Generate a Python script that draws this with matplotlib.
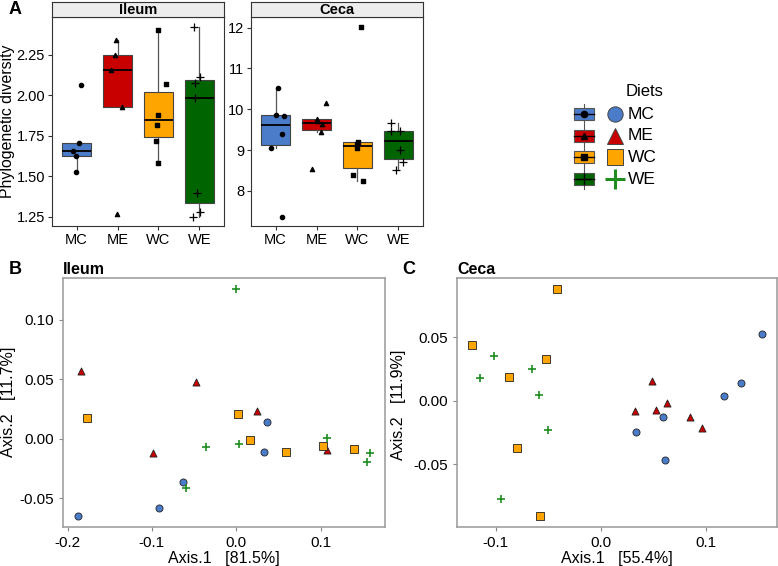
import matplotlib.pyplot as plt
from matplotlib.patches import Rectangle

plt.rcParams['font.family'] = ['Liberation Sans', 'DejaVu Sans']

W, H = 778, 566

diets = ['MC', 'ME', 'WC', 'WE']
box_colors = ['#4A7CC9', '#C80000', '#FFA500', '#006400']
pt_colors = ['#4A7CC9', '#C80000', '#FFA500', '#1E8C1E']
markers = ['o', '^', 's', '+']

# phylogenetic diversity per diet (MC, ME, WC, WE)
ileum_pd = [[2.063, 1.705, 1.654, 1.627, 1.526],
            [2.339, 2.248, 2.156, 1.927, 1.264],
            [2.405, 2.067, 1.876, 1.814, 1.719, 1.580],
            [2.425, 2.114, 2.077, 1.981, 1.396, 1.275, 1.250]]
ileum_jit = [[0.10, 0.06, -0.08, -0.02, -0.02],
             [-0.03, -0.05, -0.16, 0.12, -0.01],
             [-0.02, 0.19, -0.02, -0.03, -0.06, -0.01],
             [-0.14, 0.02, -0.10, -0.11, -0.06, 0.01, -0.15]]

ceca_pd = [[10.52, 9.85, 9.84, 9.39, 9.05, 7.37],
           [10.15, 9.76, 9.72, 9.63, 9.45, 8.53],
           [12.03, 9.20, 9.16, 9.05, 8.40, 8.24],
           [9.66, 9.46, 9.47, 9.00, 8.71, 8.52]]
ceca_jit = [[0.05, 0.00, 0.20, 0.15, -0.10, 0.15],
            [0.22, 0.00, 0.02, 0.13, 0.11, -0.11],
            [0.08, 0.01, 0.00, -0.01, -0.11, 0.14],
            [-0.18, -0.17, 0.05, 0.04, 0.10, -0.06]]

# PCoA coordinates (Axis.1, Axis.2)
ileum_ax1 = [[-0.188, -0.091, -0.063, 0.036, 0.0329],
             [-0.184, -0.048, -0.099, 0.0246, 0.108],
             [-0.177, 0.002, 0.0166, 0.0586, 0.1025, 0.1393],
             [-0.060, 0.108, -0.0364, 0.0027, 0.159, 0.1548, 0.0]]
ileum_ax2 = [[-0.0646, -0.058, -0.036, 0.0144, -0.0114],
             [0.057, 0.048, -0.012, 0.0236, -0.0098],
             [0.0178, 0.0205, -0.0008, -0.0112, -0.0062, -0.0083],
             [-0.041, 0.001, -0.0067, -0.0042, -0.0117, -0.0198, 0.1255]]

ceca_ax1 = [[0.1542, 0.1338, 0.1173, 0.0593, 0.0338, 0.0615],
            [0.0489, 0.0634, 0.053, 0.0325, 0.0855, 0.0965],
            [-0.123, -0.0517, -0.0876, -0.080, -0.058, -0.0412],
            [-0.1012, -0.1148, -0.0656, -0.0583, -0.0501, -0.0952]]
ceca_ax2 = [[0.0528, 0.0138, 0.0036, -0.013, -0.0248, -0.0464],
            [0.0151, -0.0021, -0.0073, -0.0078, -0.0125, -0.0214],
            [0.0442, 0.0325, 0.0184, -0.037, -0.0906, 0.0877],
            [0.0348, 0.0177, 0.0252, 0.0041, -0.0232, -0.0773]]


def rect(l, t, r, b):
    return [l / W, 1 - b / H, (r - l) / W, (b - t) / H]


fig = plt.figure(figsize=(W / 100, H / 100), dpi=100)


def box_panel(left, right, title, values, jitter, yticks, fmt):
    ax = fig.add_axes(rect(left, 17, right, 226))
    bp = ax.boxplot(values, positions=[1, 2, 3, 4], widths=0.7, patch_artist=True,
                    showfliers=False, showcaps=False,
                    medianprops=dict(color='black', linewidth=1.3),
                    whiskerprops=dict(color='#555555', linewidth=0.9),
                    boxprops=dict(edgecolor='#444444', linewidth=0.8))
    for patch, c in zip(bp['boxes'], box_colors):
        patch.set_facecolor(c)
    for i in range(4):
        xs = [i + 1 + j for j in jitter[i]]
        if markers[i] == '+':
            ax.scatter(xs, values[i], marker='+', s=30, color='black', linewidths=0.9, zorder=5)
        else:
            ax.scatter(xs, values[i], marker=markers[i], s=9, color='black', zorder=5)
    ax.set_xlim(0.4, 4.6)
    allv = [v for g in values for v in g]
    span = max(allv) - min(allv)
    ax.set_ylim(min(allv) - 0.05 * span, max(allv) + 0.05 * span)
    ax.set_xticks([1, 2, 3, 4])
    ax.set_xticklabels(diets)
    ax.set_yticks(yticks)
    ax.set_yticklabels([fmt % t for t in yticks])
    ax.tick_params(length=3, width=0.8, color='#333333', labelsize=10.5, pad=2, labelcolor='black')
    for s in ax.spines.values():
        s.set_color('#333333')
        s.set_linewidth(0.8)
    strip = fig.add_axes(rect(left, 2, right, 17))
    strip.set_facecolor('#EDEDED')
    strip.set_xticks([])
    strip.set_yticks([])
    for s in strip.spines.values():
        s.set_color('#333333')
        s.set_linewidth(0.8)
    strip.text(0.5, 0.45, title, ha='center', va='center', fontsize=10.5, fontweight='bold',
               transform=strip.transAxes)
    return ax


box_panel(52, 224, 'Ileum', ileum_pd, ileum_jit, [1.25, 1.50, 1.75, 2.00, 2.25], '%.2f')
box_panel(251, 423, 'Ceca', ceca_pd, ceca_jit, [8, 9, 10, 11, 12], '%d')


def pcoa_panel(left, right, xs, ys, xticks, xfmt, yticks):
    ax = fig.add_axes(rect(left, 278, right, 527))
    for i in range(4):
        if markers[i] == '+':
            ax.scatter(xs[i], ys[i], marker='+', s=38, color=pt_colors[i], linewidths=1.2, zorder=3)
        else:
            ax.scatter(xs[i], ys[i], marker=markers[i], s=26, facecolor=pt_colors[i],
                       edgecolor='#222222', linewidths=0.6, zorder=3)
    ax.margins(0.05)
    ax.set_xticks(xticks)
    ax.set_xticklabels([xfmt % t for t in xticks])
    ax.set_yticks(yticks)
    ax.set_yticklabels(['%.2f' % t for t in yticks])
    ax.tick_params(length=3, width=0.8, color='#888888', labelsize=11, pad=3.5, labelcolor='black')
    for s in ax.spines.values():
        s.set_color('#999999')
        s.set_linewidth(1.1)
    return ax


pcoa_panel(63, 385, ileum_ax1, ileum_ax2, [-0.2, -0.1, 0.0, 0.1], '%.1f', [-0.05, 0.00, 0.05, 0.10])
pcoa_panel(457, 777, ceca_ax1, ceca_ax2, [-0.1, 0.0, 0.1], '%.1f', [-0.05, 0.00, 0.05])

# labels
fig.text(15 / W, 1 - 9 / H, 'A', fontsize=13, fontweight='bold', ha='center', va='center')
fig.text(15 / W, 1 - 269 / H, 'B', fontsize=13, fontweight='bold', ha='center', va='center')
fig.text(409 / W, 1 - 269 / H, 'C', fontsize=13, fontweight='bold', ha='center', va='center')
fig.text(63 / W, 1 - 269 / H, 'Ileum', fontsize=11.5, fontweight='bold', ha='left', va='center')
fig.text(457 / W, 1 - 269 / H, 'Ceca', fontsize=11.5, fontweight='bold', ha='left', va='center')
fig.text(8 / W, 1 - 121.5 / H, 'Phylogenetic diversity', fontsize=11.4, rotation=90,
         ha='center', va='center')
fig.text(9 / W, 1 - 402 / H, 'Axis.2   [11.7%]', fontsize=11.5, rotation=90, ha='center', va='center')
fig.text(399 / W, 1 - 405 / H, 'Axis.2   [11.9%]', fontsize=11.5, rotation=90, ha='center', va='center')
fig.text(224 / W, 1 - 559 / H, 'Axis.1   [81.5%]', fontsize=11.5, ha='center', va='center')
fig.text(617 / W, 1 - 559 / H, 'Axis.1   [55.4%]', fontsize=11.5, ha='center', va='center')

# legend
lg = fig.add_axes([0, 0, 1, 1], zorder=10)
lg.set_xlim(0, W)
lg.set_ylim(H, 0)
lg.axis('off')
lg.text(645, 92, 'Diets', fontsize=12, ha='center', va='center')
row_y = [114, 135.5, 157, 178.5]
lg.plot([584, 584], [104, 189], color='#555555', linewidth=0.8, zorder=1)
for i, y in enumerate(row_y):
    lg.add_patch(Rectangle((574, y - 6), 20, 12, facecolor=box_colors[i],
                           edgecolor='#555555', linewidth=0.8, zorder=2))
    lg.plot([574, 594], [y, y], color='black', linewidth=1.0, zorder=3)
    if markers[i] == '+':
        lg.plot([584], [y], marker='+', markersize=8, color='black', markeredgewidth=1.0, zorder=4)
        lg.plot([615], [y], marker='+', markersize=15, color=pt_colors[i], markeredgewidth=2.2, zorder=4)
    else:
        lg.plot([584], [y], marker=markers[i], markersize=4.5, color='black', zorder=4)
        lg.plot([615], [y], marker=markers[i], markersize=11, markerfacecolor=pt_colors[i],
                markeredgecolor='#444444', markeredgewidth=0.7, zorder=4)
    lg.text(628, y + 0.5, diets[i], fontsize=12.5, ha='left', va='center')

fig.savefig('out.png', dpi=100)
